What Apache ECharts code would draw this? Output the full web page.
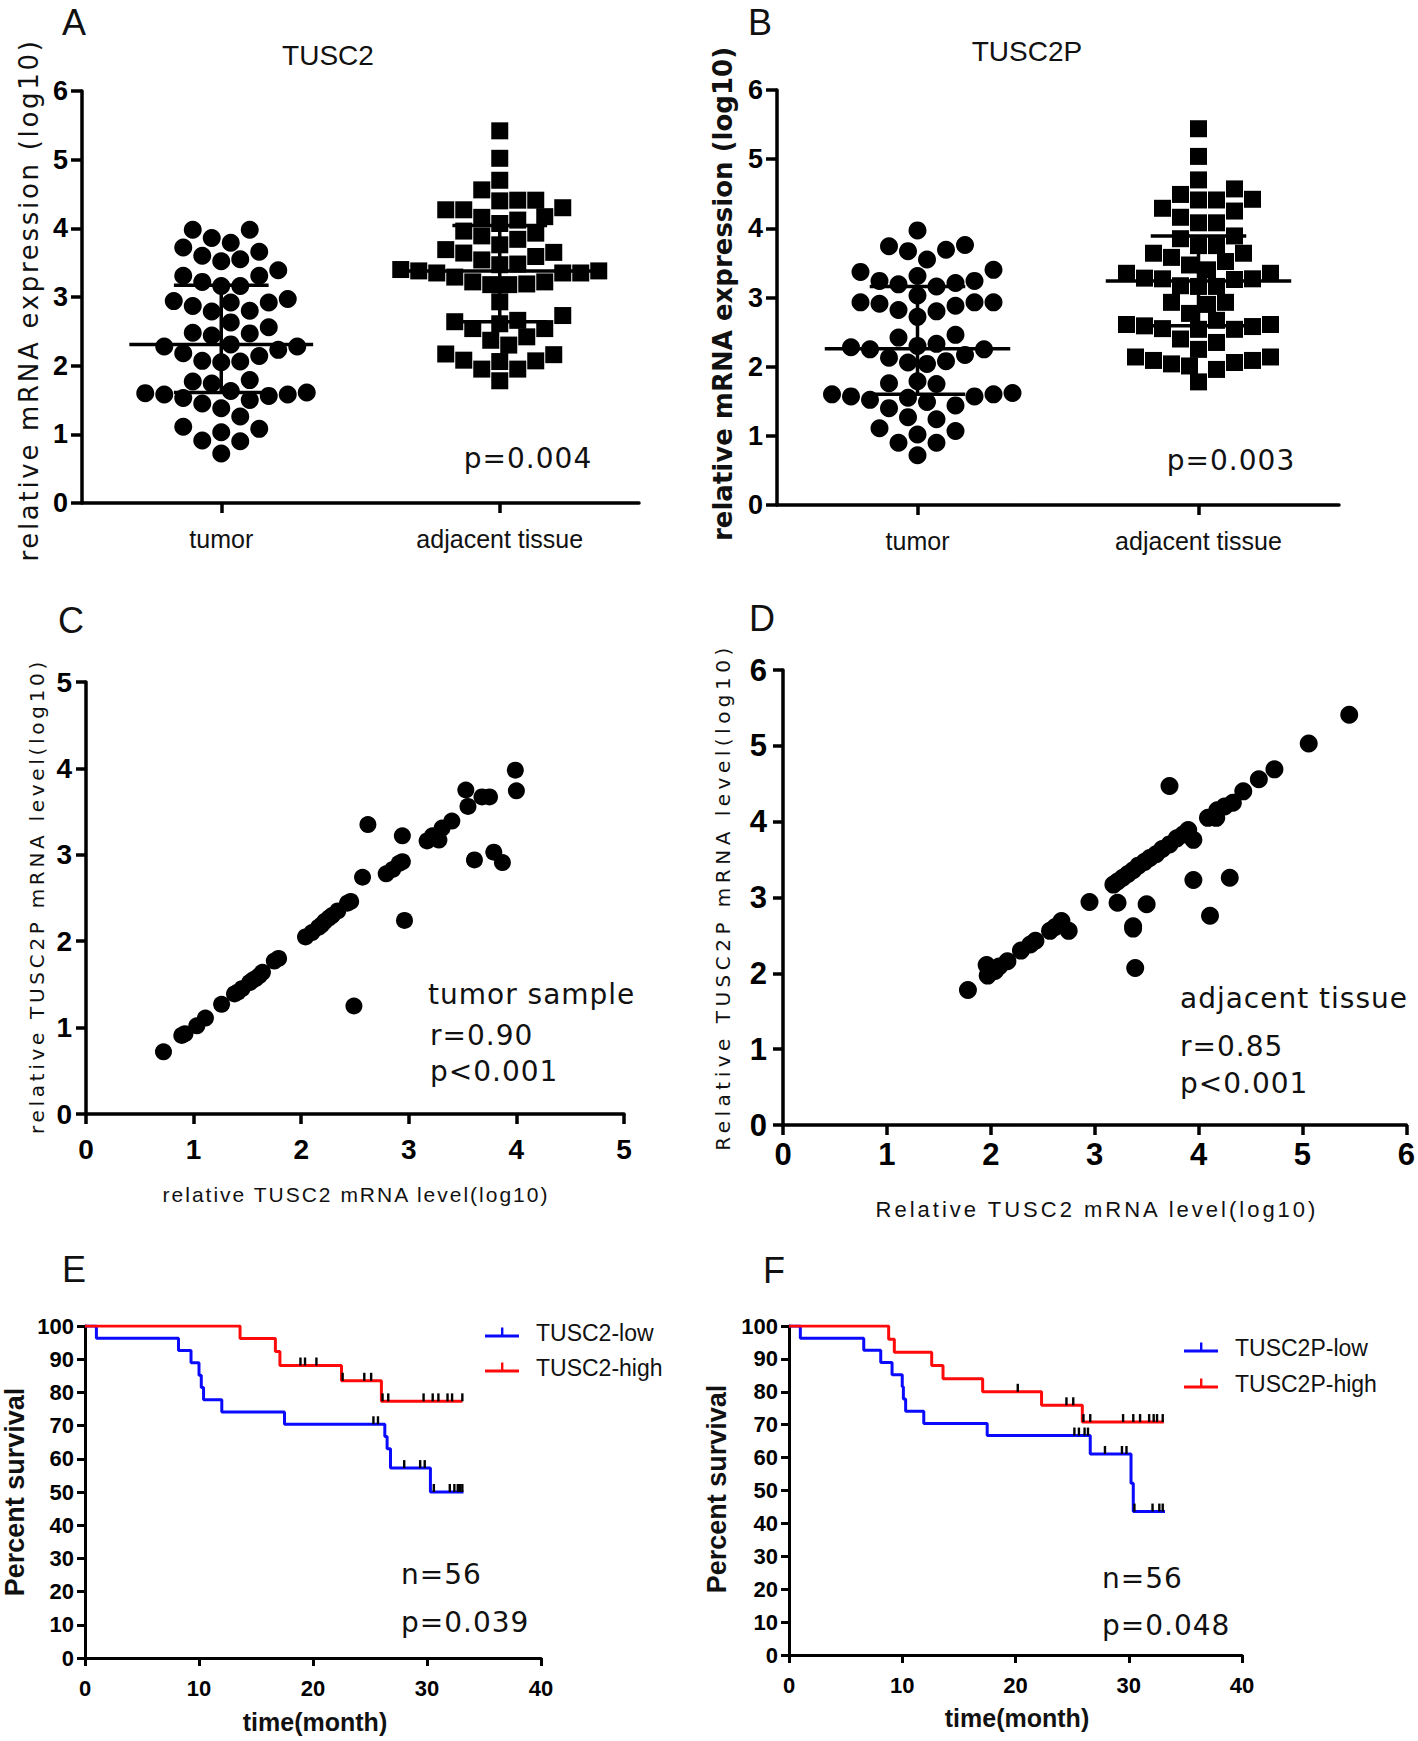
<!DOCTYPE html>
<html><head><meta charset="utf-8">
<script src="https://cdn.jsdelivr.net/npm/echarts@6/dist/echarts.min.js"></script>
<style>html,body{margin:0;padding:0;background:#fff}#c{width:1418px;height:1741px}</style>
</head><body><div id="c"></div>
<script>
// ---------------- DATA ----------------
const groupCats = ['tumor', 'adjacent tissue'];
// Panel A: TUSC2 expression (log10)
const tumorA = [3.79,3.98,3.98,3.86,3.66,3.72,3.55,3.52,3.60,3.31,3.22,3.31,3.39,3.16,3.16,2.94,2.92,2.92,2.97,2.80,2.79,2.87,2.63,2.56,2.48,2.44,2.47,2.28,2.23,2.28,2.31,2.14,2.18,2.06,2.05,2.07,1.79,1.74,1.77,1.61,1.56,1.50,1.53,1.58,1.58,1.63,1.45,1.38,1.26,1.08,1.11,1.03,0.91,0.90,0.72,1.60];
const adjA = [5.42,5.02,4.70,4.56,4.41,4.41,4.27,4.27,4.30,4.40,4.17,4.12,4.16,4.07,3.96,3.89,3.93,3.76,3.69,3.84,3.64,3.65,3.59,3.54,3.47,3.38,3.35,3.38,3.35,3.35,3.40,3.48,3.22,3.19,3.18,3.18,3.22,3.29,2.93,2.66,2.61,2.54,2.54,2.64,2.73,2.37,2.42,2.30,2.16,2.17,2.07,1.95,1.95,2.06,2.08,1.78];
const meanA = [2.31, 3.38];
const lowA = [1.61, 2.64];
const highA = [3.17, 4.04];
// Panel B: TUSC2P expression (log10)
const tumorB = [3.97,3.74,3.67,3.69,3.76,3.55,3.37,3.40,3.24,3.21,3.19,3.16,3.24,3.31,3.03,2.91,2.93,2.88,2.93,2.93,2.82,2.80,2.72,2.42,2.46,2.33,2.28,2.25,2.25,2.30,2.13,2.17,2.06,2.04,2.08,1.79,1.75,1.76,1.60,1.57,1.55,1.49,1.52,1.57,1.60,1.62,1.40,1.44,1.24,1.27,1.07,1.11,1.02,0.90,0.90,0.72];
const adjB = [5.44,5.04,4.70,4.57,4.49,4.41,4.29,4.25,4.41,4.42,4.16,4.08,4.08,3.89,3.85,3.75,3.75,3.64,3.64,3.58,3.52,3.47,3.40,3.35,3.35,3.27,3.26,3.27,3.28,3.16,3.16,3.17,2.93,2.93,2.90,2.77,2.67,2.61,2.59,2.55,2.54,2.54,2.58,2.61,2.35,2.40,2.25,2.09,2.09,2.14,2.01,2.14,1.96,2.04,2.06,1.78];
const meanB = [2.26, 3.24];
const lowB = [1.60, 2.59];
const highB = [3.16, 3.89];
// Panel C: tumor sample correlation
const cX = [0.72,0.89,0.92,1.03,1.11,1.26,1.38,1.41,1.45,1.52,1.58,1.64,1.75,1.79,2.04,2.10,2.16,2.22,2.29,2.34,2.43,2.46,2.49,2.57,2.62,2.79,2.85,2.91,2.94,2.94,2.96,3.17,3.22,3.28,3.31,3.40,3.53,3.55,3.61,3.68,3.75,3.79,3.87,3.99,4.00,1.55,1.61,2.19,2.26];
const cY = [0.72,0.91,0.93,1.02,1.11,1.27,1.39,1.41,1.45,1.52,1.57,1.64,1.77,1.80,2.05,2.10,2.16,2.23,2.30,2.35,2.44,2.46,1.25,2.74,3.35,2.78,2.83,2.90,2.92,3.22,2.24,3.16,3.22,3.17,3.31,3.39,3.75,3.56,2.94,3.67,3.67,3.03,2.91,3.98,3.74,1.55,1.60,2.19,2.27];
// Panel D: adjacent tissue correlation
const dX = [1.78,1.96,1.97,2.04,2.08,2.16,2.29,2.38,2.43,2.57,2.62,2.68,2.75,2.95,3.18,3.22,3.22,3.27,3.32,3.37,3.37,3.37,3.39,3.42,3.48,3.50,3.53,3.59,3.65,3.72,3.72,3.79,3.85,3.90,3.95,3.95,4.09,4.11,4.17,4.18,4.25,4.30,4.33,4.43,4.58,4.73,5.06,5.45];
const dY = [1.78,2.11,1.97,2.03,2.09,2.16,2.30,2.38,2.43,2.56,2.61,2.69,2.56,2.94,3.17,3.21,2.93,3.26,3.31,3.36,2.59,2.62,2.07,3.42,3.47,2.91,3.52,3.57,3.64,3.70,4.47,3.78,3.83,3.89,3.76,3.23,4.05,2.76,4.05,4.15,4.20,3.26,4.25,4.40,4.56,4.69,5.03,5.41];
// Panel E: Kaplan-Meier TUSC2
const kmE_low_t = [0,1.0,8.2,9.3,10.0,10.2,10.4,12.0,17.5,26.3,26.5,26.8,30.3,33.2];
const kmE_low_s = [100,96.3,92.6,88.9,85.2,81.5,77.8,74.1,70.4,66.7,63.0,57.2,50.0,50.0];
const kmE_high_t = [0,13.6,16.7,17.1,22.5,26.0,33.1];
const kmE_high_s = [100,96.2,92.3,88.1,83.5,77.3,77.3];
const censE_low = [25.3,25.7,28.0,29.4,29.8,30.6,32.0,32.4,32.7,32.9,33.1];
const censE_high = [18.9,19.3,20.3,22.6,24.5,25.1,26.1,26.6,29.7,30.5,31.0,31.8,32.2,33.1];
// Panel F: Kaplan-Meier TUSC2P
const kmF_low_t = [0,1.0,6.6,8.1,9.1,10.0,10.1,10.3,11.9,17.5,26.6,30.2,30.4,33.2];
const kmF_low_s = [100,96.3,92.6,88.9,85.2,81.5,77.8,74.1,70.4,66.7,61.1,52.2,43.6,43.6];
const kmF_high_t = [0,8.8,9.3,12.6,13.6,17.1,22.3,25.9,33.1];
const kmF_high_s = [100,96.0,92.0,88.0,84.0,80.0,75.9,70.8,70.8];
const censF_low = [25.2,25.6,26.1,26.4,27.9,29.4,29.8,30.5,32.1,32.7,33.0];
const censF_high = [20.2,24.5,25.1,26.0,26.6,29.5,30.4,31.0,31.8,32.2,32.5,33.0];
const kmNames = ['TUSC2-low','TUSC2-high','TUSC2P-low','TUSC2P-high'];

// ---------------- LAYOUT / STYLE ----------------
const LS = '"Liberation Sans", Arial, sans-serif';
const DJ = '"DejaVu Sans", Verdana, sans-serif';
const BLUE = '#0a0aff', RED = '#ff0a0a';
const grids = [
  {left:82, top:91, width:557, height:412},
  {left:777, top:90, width:562, height:415},
  {left:86, top:682, width:538, height:432},
  {left:783, top:670, width:624, height:455},
  {left:85, top:1326, width:456, height:332},
  {left:789, top:1326, width:453, height:329}
];

// beeswarm layout of a column of values (pixel-space collision avoidance)
function swarm(vals, center, pxX, pxY, diam) {
  const order = vals.map((v, i) => i).sort((a, b) => vals[a] - vals[b]);
  const placed = [], out = new Array(vals.length);
  const step = diam / 2;
  for (const i of order) {
    const py = vals[i] * pxY;
    for (let k = 0; k < 400; k++) {
      const off = k === 0 ? 0 : (k % 2 ? 1 : -1) * Math.ceil(k / 2) * step;
      let ok = true;
      for (const p of placed) {
        const dx = p[0] - off, dy = p[1] - py;
        if (dx * dx + dy * dy < diam * diam) { ok = false; break; }
      }
      if (ok) { placed.push([off, py]); out[i] = [center + off / pxX, vals[i]]; break; }
    }
  }
  return out;
}
function survAt(t, ts, ss) {
  let s = ss[0];
  for (let i = 0; i < ts.length; i++) if (ts[i] <= t + 1e-9) s = ss[i];
  return s;
}

function valAxis(gi, min, max, interval, fs, tickLen, margin) {
  return {
    gridIndex: gi, type: 'value', min, max, interval,
    axisLine: {show: true, onZero: false, lineStyle: {color: '#000', width: 3.5}},
    axisTick: {show: true, length: tickLen, lineStyle: {color: '#000', width: 3.5}},
    axisLabel: {color: '#000', fontFamily: LS, fontWeight: 'bold', fontSize: fs, margin},
    splitLine: {show: false}
  };
}
function catXAxis(gi) {
  const a = valAxis(gi, 0.5, 2.5, undefined, 25, 10, 23);
  a.axisTick.customValues = [1, 2];
  a.axisLabel.customValues = [1, 2];
  a.axisLabel.fontWeight = 'normal';
  a.axisLabel.color = '#111';
  a.axisLabel.formatter = v => groupCats[Math.round(v) - 1] || '';
  return a;
}

function meanSD(params, api) {
  const c = api.value(0), m = api.value(1), lo = api.value(2), hi = api.value(3);
  const P = (x, y) => api.coord([x, y]);
  const st = {stroke: '#000', lineWidth: 3.5, fill: null};
  const seg = (a, b) => ({type: 'line', shape: {x1: a[0], y1: a[1], x2: b[0], y2: b[1]}, style: st});
  return {type: 'group', children: [
    seg(P(c - 0.33, m), P(c + 0.33, m)),
    seg(P(c, lo), P(c, hi)),
    seg(P(c - 0.17, hi), P(c + 0.17, hi)),
    seg(P(c - 0.17, lo), P(c + 0.17, lo))
  ]};
}

function dotSeries(gi, data, symbol, size, name) {
  return {type: 'scatter', name, xAxisIndex: gi, yAxisIndex: gi, data, symbol, symbolSize: size,
    itemStyle: {color: '#000', opacity: 1}, silent: true};
}
function kmSeries(gi, name, ts, ss, color) {
  return {type: 'line', name, xAxisIndex: gi, yAxisIndex: gi, step: 'end', symbol: 'none', showSymbol: false,
    data: ts.map((t, i) => [t, ss[i]]), lineStyle: {color, width: 3}, itemStyle: {color}, z: 3};
}
function censSeries(gi, name, cens, ts, ss) {
  return {type: 'scatter', name, xAxisIndex: gi, yAxisIndex: gi, symbol: 'rect', symbolSize: [2.4, 8],
    symbolOffset: [0, -4], data: cens.map(t => [t, survAt(t, ts, ss)]), itemStyle: {color: '#000', opacity: 1}, z: 4};
}

const pxA = [grids[0].width / 2, grids[0].height / 6];
const pxB = [grids[1].width / 2, grids[1].height / 6];
const series = [
  dotSeries(0, swarm(tumorA, 1, pxA[0], pxA[1], 19), 'circle', 18, 'TUSC2 tumor'),
  dotSeries(0, swarm(adjA, 2, pxA[0], pxA[1], 18), 'rect', 17, 'TUSC2 adjacent tissue'),
  {type: 'custom', name: 'TUSC2 mean±SD', xAxisIndex: 0, yAxisIndex: 0, renderItem: meanSD,
   data: meanA.map((m, i) => [i + 1, m, lowA[i], highA[i]]), z: 5},
  dotSeries(1, swarm(tumorB, 1, pxB[0], pxB[1], 19), 'circle', 18, 'TUSC2P tumor'),
  dotSeries(1, swarm(adjB, 2, pxB[0], pxB[1], 18), 'rect', 17, 'TUSC2P adjacent tissue'),
  {type: 'custom', name: 'TUSC2P mean±SD', xAxisIndex: 1, yAxisIndex: 1, renderItem: meanSD,
   data: meanB.map((m, i) => [i + 1, m, lowB[i], highB[i]]), z: 5},
  dotSeries(2, cX.map((x, i) => [x, cY[i]]), 'circle', 17, 'tumor sample'),
  dotSeries(3, dX.map((x, i) => [x, dY[i]]), 'circle', 18, 'adjacent tissue'),
  kmSeries(4, kmNames[0], kmE_low_t, kmE_low_s, BLUE),
  kmSeries(4, kmNames[1], kmE_high_t, kmE_high_s, RED),
  censSeries(4, 'TUSC2-low censored', censE_low, kmE_low_t, kmE_low_s),
  censSeries(4, 'TUSC2-high censored', censE_high, kmE_high_t, kmE_high_s),
  kmSeries(5, kmNames[2], kmF_low_t, kmF_low_s, BLUE),
  kmSeries(5, kmNames[3], kmF_high_t, kmF_high_s, RED),
  censSeries(5, 'TUSC2P-low censored', censF_low, kmF_low_t, kmF_low_s),
  censSeries(5, 'TUSC2P-high censored', censF_high, kmF_high_t, kmF_high_s)
];

const xAxis = [
  catXAxis(0), catXAxis(1),
  valAxis(2, 0, 5, 1, 28, 10, 21),
  valAxis(3, 0, 6, 1, 31, 10, 14),
  valAxis(4, 0, 40, 10, 22, 8, 19),
  valAxis(5, 0, 40, 10, 22, 8, 19)
];
const yAxis = [
  valAxis(0, 0, 6, 1, 27, 11, 14),
  valAxis(1, 0, 6, 1, 27, 11, 14),
  valAxis(2, 0, 5, 1, 28, 10, 14),
  valAxis(3, 0, 6, 1, 31, 10, 16),
  valAxis(4, 0, 100, 10, 22, 8, 11),
  valAxis(5, 0, 100, 10, 22, 8, 11)
];
[xAxis[4], yAxis[4], xAxis[5], yAxis[5]].forEach(a => { a.axisLine.lineStyle.width = 3; a.axisTick.lineStyle.width = 3; });

function T(text, x, y, font, opt) {
  opt = opt || {};
  return {type: 'text', x, y, rotation: opt.rot || 0, silent: true,
    style: {text, font, fill: opt.color || '#111', textAlign: opt.align || 'center', textVerticalAlign: 'middle'}};
}
const R90 = Math.PI / 2;
const graphic = [
  T('A', 74, 22, '36px ' + LS), T('B', 760, 22, '36px ' + LS),
  T('C', 71, 620, '36px ' + LS), T('D', 762, 618, '36px ' + LS),
  T('E', 74, 1269, '36px ' + LS), T('F', 774, 1270, '36px ' + LS),
  T('TUSC2', 328, 55, '28px ' + LS), T('TUSC2P', 1027, 51, '28px ' + LS),
  T('relative mRNA expression (log10)', 29, 300, '26px ' + DJ, {rot: R90}),
  T('relative mRNA expression (log10)', 723, 294, 'bold 26px ' + DJ, {rot: R90}),
  T('p=0.004', 528, 458, '28px ' + DJ), T('p=0.003', 1231, 460, '28px ' + DJ),
  T('relative TUSC2P mRNA level(log10)', 37, 896, '20px ' + DJ, {rot: R90}),
  T('relative TUSC2 mRNA level(log10)', 356, 1194, '21px ' + LS),
  T('tumor sample', 428, 994, '28px ' + DJ, {align: 'left'}),
  T('r=0.90', 430, 1035, '28px ' + DJ, {align: 'left'}),
  T('p<0.001', 430, 1071, '28px ' + DJ, {align: 'left'}),
  T('Relative TUSC2P mRNA level(log10)', 723, 897, '20px ' + DJ, {rot: R90}),
  T('Relative TUSC2 mRNA level(log10)', 1097, 1209, '22px ' + LS),
  T('adjacent tissue', 1180, 998, '28px ' + DJ, {align: 'left'}),
  T('r=0.85', 1180, 1046, '28px ' + DJ, {align: 'left'}),
  T('p<0.001', 1180, 1083, '28px ' + DJ, {align: 'left'}),
  T('Percent survival', 15, 1492, 'bold 27px ' + LS, {rot: R90}),
  T('Percent survival', 717, 1489, 'bold 27px ' + LS, {rot: R90}),
  T('time(month)', 315, 1722, 'bold 25px ' + LS),
  T('time(month)', 1017, 1718, 'bold 25px ' + LS),
  T('n=56', 401, 1574, '28px ' + DJ, {align: 'left'}),
  T('p=0.039', 401, 1622, '28px ' + DJ, {align: 'left'}),
  T('n=56', 1102, 1578, '28px ' + DJ, {align: 'left'}),
  T('p=0.048', 1102, 1625, '28px ' + DJ, {align: 'left'})
];

const legendIcon = 'path://M0,7h34v3h-34z M16,0h2.4v7h-2.4z';
function legendOf(names, left, top, gap) {
  return {data: names, orient: 'vertical', left, top, padding: 0, itemWidth: 34, itemHeight: 10, itemGap: gap,
    icon: legendIcon, selectedMode: false,
    textStyle: {fontFamily: LS, fontSize: 23, color: '#111', padding: [0, 0, 0, 12]}};
}

const chart = echarts.init(document.getElementById('c'), null, {renderer: 'svg', width: 1418, height: 1741});
chart.setOption({
  animation: false,
  backgroundColor: '#fff',
  grid: grids,
  xAxis, yAxis, series, graphic,
  legend: [legendOf(kmNames.slice(0, 2), 485, 1321, 12), legendOf(kmNames.slice(2, 4), 1184, 1336, 13)]
});

// letter spacing for the widely tracked labels (real text kept intact)
const SPACING = {
  'relative mRNA expression (log10)': 2.7,
  'relative TUSC2P mRNA level(log10)': 3.7,
  'relative TUSC2 mRNA level(log10)': 2.0,
  'Relative TUSC2P mRNA level(log10)': 4.5,
  'Relative TUSC2 mRNA level(log10)': 3.0,
  'p=0.004': 1, 'p=0.003': 1,
  'tumor sample': 1, 'r=0.90': 1, 'p<0.001': 1, 'adjacent tissue': 1, 'r=0.85': 1,
  'n=56': 1, 'p=0.039': 1, 'p=0.048': 1
};
function applySpacing() {
  document.querySelectorAll('#c svg text').forEach(el => {
    const t = el.textContent;
    if (!(t in SPACING)) return;
    const st = (el.getAttribute('style') || '') + (el.getAttribute('font-weight') || '') + (el.getAttribute('font') || '');
    if (t === 'relative mRNA expression (log10)' && /bold/.test(st)) return;
    if (t === 'adjacent tissue' && /Liberation/.test(st)) return;
    el.setAttribute('letter-spacing', SPACING[t] + 'px');
  });
}
applySpacing();
chart.on('finished', applySpacing);
setTimeout(applySpacing, 50);
setTimeout(applySpacing, 300);
</script></body></html>
